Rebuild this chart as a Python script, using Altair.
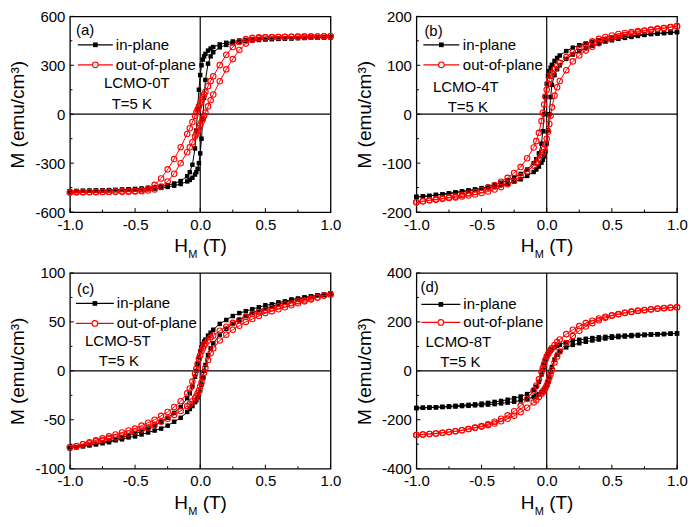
import altair as alt
import pandas as pd

F = "Liberation Sans"

# ---------------- data ----------------
H_DESC = [1.0, 0.95, 0.9, 0.85, 0.8, 0.75, 0.7, 0.65, 0.6, 0.55, 0.5, 0.45, 0.4, 0.35, 0.3, 0.25, 0.2, 0.15, 0.1,
          0.08, 0.06, 0.04, 0.03, 0.02, 0.01, 0.0, -0.01, -0.02, -0.03, -0.04, -0.06, -0.08,
          -0.1, -0.15, -0.2, -0.25, -0.3, -0.35, -0.4, -0.45, -0.5, -0.55, -0.6, -0.65, -0.7, -0.75, -0.8,
          -0.85, -0.9, -0.95, -1.0]
H_ASC = [-1.0, -0.95, -0.9, -0.85, -0.8, -0.75, -0.7, -0.65, -0.6, -0.55, -0.5, -0.45, -0.4, -0.35, -0.3, -0.25,
         -0.2, -0.15, -0.1, -0.08, -0.06, -0.04, -0.03, -0.02, -0.01, 0.0, 0.01, 0.02, 0.03, 0.04, 0.06, 0.08,
         0.1, 0.15, 0.2, 0.25, 0.3, 0.35, 0.4, 0.45, 0.5, 0.55, 0.6, 0.65, 0.7, 0.75, 0.8, 0.85, 0.9, 0.95, 1.0]

A_IN_DESC = [472, 471, 470, 469, 468, 467, 466, 465, 464, 463, 462, 461, 459, 456, 452, 446, 438, 428, 412,
             403, 390, 370, 355, 335, 300, 240, 150, 30, -100, -210, -310, -355,
             -380, -410, -425, -435, -442, -448, -452, -455, -458, -460, -462, -464, -465, -467, -468, -469, -470, -471, -472]
A_IN_ASC = [-472, -471, -470, -469, -468, -467, -466, -465, -464, -463, -462, -461, -459, -456, -452, -446, -438, -428, -412,
            -403, -390, -370, -355, -335, -300, -240, -150, -30, 100, 210, 310, 355,
            380, 410, 425, 435, 442, 448, 452, 455, 458, 460, 462, 464, 465, 467, 468, 469, 470, 471, 472]
A_OUT_DESC = [478, 478, 477, 477, 476, 476, 475, 475, 474, 473, 472, 471, 468, 461, 444, 412, 365, 301, 233,
              203, 172, 137, 121, 104, 86, 67, 48, 29, 10, -10, -48, -86,
              -121, -202, -275, -338, -394, -433, -456, -466, -471, -472, -473, -474, -475, -476, -476, -477, -478, -479, -480]
A_OUT_ASC = [-480, -479, -479, -478, -478, -477, -477, -476, -476, -475, -474, -472, -468, -461, -444, -412, -365, -301, -233,
             -203, -172, -137, -121, -104, -86, -67, -48, -29, -10, 10, 48, 86,
             121, 202, 275, 338, 394, 433, 456, 466, 471, 472, 473, 474, 475, 475, 476, 476, 477, 477, 478]

B_IN_DESC = [168, 167, 166, 165, 164, 163, 162, 160, 159, 157, 155, 153, 151, 148, 145, 141, 136, 129, 120,
             115, 109, 101, 95, 88, 78, 62, 35, 0, -35, -60, -80, -92,
             -100, -113, -122, -129, -135, -140, -144, -148, -151, -154, -156, -158, -160, -162, -164, -165, -167, -168, -169]
B_IN_ASC = [-169, -168, -167, -165, -164, -162, -160, -158, -156, -154, -152, -150, -148, -145, -142, -138, -133, -126, -118,
            -113, -107, -99, -93, -86, -76, -60, -33, 0, 35, 60, 80, 92,
            100, 113, 122, 129, 135, 140, 144, 148, 151, 154, 156, 158, 160, 162, 164, 165, 166, 167, 168]
B_OUT_DESC = [180, 178, 176, 175, 173, 171, 170, 168, 166, 164, 161, 158, 154, 149, 143, 136, 127, 117, 105,
              99, 92, 84, 78, 71, 62, 50, 36, 20, 3, -14, -38, -55,
              -68, -90, -108, -120, -130, -138, -145, -150, -155, -159, -162, -165, -168, -170, -172, -174, -176, -178, -180]
B_OUT_ASC = [-180, -178, -176, -175, -173, -171, -170, -168, -166, -164, -161, -158, -154, -149, -143, -136, -127, -117, -105,
             -99, -92, -84, -78, -71, -62, -50, -36, -20, -3, 14, 38, 55,
             68, 90, 108, 120, 130, 138, 145, 150, 155, 159, 162, 165, 168, 170, 172, 174, 176, 178, 180]

C_IN_DESC = [79, 78, 77, 76, 75, 74, 73, 71, 70, 68, 67, 65, 63, 61, 59, 56, 52, 48, 42,
             39, 36, 32, 30, 27, 24, 20, 14, 7, 0, -6, -16, -23,
             -28, -37, -43, -48, -52, -56, -59, -62, -64, -66, -68, -70, -72, -73, -75, -76, -77, -78, -79]
C_IN_ASC = [-79, -78, -77, -76, -75, -74, -73, -71, -70, -68, -67, -65, -63, -61, -59, -56, -52, -48, -42,
            -39, -36, -32, -30, -27, -24, -20, -14, -7, 0, 6, 16, 23,
            28, 37, 43, 48, 52, 56, 59, 62, 64, 66, 68, 70, 72, 73, 75, 76, 77, 78, 79]
C_OUT_DESC = [78, 77, 75, 74, 72, 71, 69, 68, 66, 64, 62, 60, 58, 55, 52, 49, 45, 41, 36,
              34, 31, 28, 26, 23, 20, 16, 12, 7, 2, -3, -11, -18,
              -23, -31, -37, -42, -46, -50, -53, -56, -59, -61, -63, -65, -67, -69, -71, -73, -75, -77, -78]
C_OUT_ASC = [-78, -77, -75, -74, -72, -71, -69, -68, -66, -64, -62, -60, -58, -55, -52, -49, -45, -41, -36,
             -34, -31, -28, -26, -23, -20, -16, -12, -7, -2, 3, 11, 18,
             23, 31, 37, 42, 46, 50, 53, 56, 59, 61, 63, 65, 67, 69, 71, 73, 75, 77, 78]

D_IN_DESC = [153, 152, 151, 150, 149, 148, 147, 146, 144, 143, 141, 139, 137, 134, 131, 127, 122, 116, 107,
             102, 96, 88, 83, 77, 70, 60, 45, 25, 5, -15, -45, -65,
             -78, -95, -105, -112, -118, -123, -127, -131, -134, -137, -139, -141, -143, -145, -147, -149, -150, -151, -152]
D_IN_ASC = [-152, -151, -150, -149, -148, -147, -146, -144, -143, -141, -140, -138, -136, -133, -130, -126, -121, -115, -106,
            -101, -95, -87, -82, -76, -69, -59, -44, -24, -4, 16, 46, 66,
            79, 96, 106, 113, 119, 124, 128, 132, 135, 138, 140, 142, 144, 146, 148, 149, 150, 152, 153]
D_OUT_DESC = [260, 258, 256, 254, 251, 248, 245, 241, 237, 232, 227, 221, 214, 205, 195, 183, 168, 150, 128,
              118, 106, 93, 86, 78, 69, 58, 44, 28, 12, -5, -35, -60,
              -80, -115, -143, -165, -182, -196, -208, -218, -226, -232, -238, -243, -247, -250, -253, -256, -258, -260, -262]
D_OUT_ASC = [-262, -260, -258, -256, -253, -250, -247, -243, -238, -233, -228, -222, -215, -206, -196, -184, -169, -151, -129,
             -119, -107, -94, -87, -79, -70, -59, -45, -29, -13, 4, 34, 59,
             79, 114, 142, 164, 181, 195, 207, 217, 225, 231, 237, 242, 246, 249, 252, 255, 257, 259, 260]

X_MAJOR = [-1.0, -0.5, 0.0, 0.5, 1.0]
X_MINOR = [-0.75, -0.25, 0.25, 0.75]

PANEL_TAGS = ["(a)", "(b)", "(c)", "(d)"]
SAMPLES = ["LCMO-0T", "LCMO-4T", "LCMO-5T", "LCMO-8T"]
TEMP_LABEL = "T=5 K"
SERIES = ["in-plane", "out-of-plane"]
Y_TITLE = "M (emu/cm³)"
Y_LIMITS = [600, 200, 100, 400]
Y_MAJOR = [[-600, -300, 0, 300, 600], [-200, -100, 0, 100, 200], [-100, -50, 0, 50, 100], [-400, -200, 0, 200, 400]]
Y_MINOR = [[-450, -150, 150, 450], [-150, -50, 50, 150], [-75, -25, 25, 75], [-300, -100, 100, 300]]
IN_DESC = [A_IN_DESC, B_IN_DESC, C_IN_DESC, D_IN_DESC]
IN_ASC = [A_IN_ASC, B_IN_ASC, C_IN_ASC, D_IN_ASC]
OUT_DESC = [A_OUT_DESC, B_OUT_DESC, C_OUT_DESC, D_OUT_DESC]
OUT_ASC = [A_OUT_ASC, B_OUT_ASC, C_OUT_ASC, D_OUT_ASC]

# ---------------- layout (pixels, relative to each plot area) ----------------
SIZES = [(261, 196), (261, 196), (261, 196), (261, 196)]
LAYOUT = [
    dict(tag=(6, 14), l1=28.5, l2=48.5, lx=(8, 43), tx=46, s=(67, 67), t=(62, 88)),
    dict(tag=(8, 14.5), l1=28.5, l2=48.5, lx=(7, 43), tx=46.5, s=(49.5, 71), t=(51.5, 91)),
    dict(tag=(7, 16), l1=30.5, l2=50.5, lx=(6, 44), tx=47, s=(48, 68), t=(49, 88)),
    dict(tag=(4, 14.5), l1=31.5, l2=49.5, lx=(5, 44), tx=47, s=(42, 69), t=(44, 89)),
]
RED = "#ff0000"
MINUS_FIX = "replace(datum.label, '\u2212', '-')"


def one():
    return alt.Data(values=[{"k": 0}])


def text(s, x, y, size=15, align="left", baseline="middle"):
    return alt.Chart(one()).mark_text(
        text=s, font=F, fontSize=size, align=align, baseline=baseline, color="black"
    ).encode(x=alt.value(x), y=alt.value(y))


def panel(k):
    w, h = SIZES[k]
    L = LAYOUT[k]
    ym = Y_LIMITS[k]
    xs = alt.Scale(domain=[-1, 1], nice=False, zero=False)
    ys = alt.Scale(domain=[-ym, ym], nice=False, zero=False)
    ax_x = alt.Axis(values=X_MAJOR, format=".1f", title=None, labelExpr=MINUS_FIX, labelFlush=False)
    ax_y = alt.Axis(values=Y_MAJOR[k], format="d", title=Y_TITLE, labelExpr=MINUS_FIX, labelFlush=False)

    def X(f):
        return alt.X(f, scale=xs, axis=ax_x, title=None)

    def Y(f):
        return alt.Y(f, scale=ys, axis=ax_y, title=Y_TITLE)

    def loop(desc, asc):
        return pd.DataFrame({"H": H_DESC + H_ASC, "M": desc + asc,
                             "i": list(range(len(H_DESC) + len(H_ASC)))})

    df_in = loop(IN_DESC[k], IN_ASC[k])
    df_out = loop(OUT_DESC[k], OUT_ASC[k])

    vline = alt.Chart(alt.Data(values=[{"H": 0}])).mark_rule(color="black", strokeWidth=1.2).encode(
        x=X("H:Q"))
    hline = alt.Chart(alt.Data(values=[{"M": 0}])).mark_rule(color="black", strokeWidth=1.2).encode(
        y=Y("M:Q"))

    in_line = alt.Chart(df_in).mark_line(color="black", strokeWidth=1).encode(
        x=X("H:Q"), y=Y("M:Q"), order="i:Q")
    in_pts = alt.Chart(df_in).mark_point(shape="square", filled=True, color="black", size=20, opacity=1).encode(
        x=X("H:Q"), y=Y("M:Q"))
    out_line = alt.Chart(df_out).mark_line(color=RED, strokeWidth=1).encode(
        x=X("H:Q"), y=Y("M:Q"), order="i:Q")
    out_pts = alt.Chart(df_out).mark_point(shape="circle", filled=False, color=RED, size=30,
                                           strokeWidth=1.1, opacity=1).encode(x=X("H:Q"), y=Y("M:Q"))

    xt_major = alt.Chart(alt.Data(values=[{"H": v} for v in X_MAJOR])).mark_rule(
        color="black", strokeWidth=1).encode(x=X("H:Q"), y=alt.value(h), y2=alt.value(h - 4))
    xt_minor = alt.Chart(alt.Data(values=[{"H": v} for v in X_MINOR])).mark_rule(
        color="black", strokeWidth=1).encode(x=X("H:Q"), y=alt.value(h), y2=alt.value(h - 2.5))
    yt_major = alt.Chart(alt.Data(values=[{"M": v} for v in Y_MAJOR[k]])).mark_rule(
        color="black", strokeWidth=1).encode(y=Y("M:Q"), x=alt.value(0), x2=alt.value(4))
    yt_minor = alt.Chart(alt.Data(values=[{"M": v} for v in Y_MINOR[k]])).mark_rule(
        color="black", strokeWidth=1).encode(y=Y("M:Q"), x=alt.value(0), x2=alt.value(2.5))

    lx0, lx1 = L["lx"]
    cx = (lx0 + lx1) / 2
    leg_in_line = alt.Chart(one()).mark_rule(color="black", strokeWidth=1.2).encode(
        x=alt.value(lx0), x2=alt.value(lx1), y=alt.value(L["l1"]))
    leg_in_pt = alt.Chart(one()).mark_point(shape="square", filled=True, color="black", size=22, opacity=1).encode(
        x=alt.value(cx), y=alt.value(L["l1"]))
    leg_out_line = alt.Chart(one()).mark_rule(color=RED, strokeWidth=1.2).encode(
        x=alt.value(lx0), x2=alt.value(lx1), y=alt.value(L["l2"]))
    leg_out_pt = alt.Chart(one()).mark_point(shape="circle", filled=True, fill="white", stroke=RED,
                                             strokeWidth=1.1, size=32, opacity=1).encode(
        x=alt.value(cx), y=alt.value(L["l2"]))

    texts = [
        text(PANEL_TAGS[k], L["tag"][0], L["tag"][1]),
        text(SERIES[0], L["tx"], L["l1"]),
        text(SERIES[1], L["tx"], L["l2"]),
        text(SAMPLES[k], L["s"][0], L["s"][1], align="center"),
        text(TEMP_LABEL, L["t"][0], L["t"][1], align="center"),
        # x title H_M (T)
        text("H", w / 2 - 26, h + 40, size=19, baseline="alphabetic"),
        text("M", w / 2 - 12, h + 46, size=11, baseline="alphabetic"),
        text("(T)", w / 2 + 2.5, h + 40, size=19, baseline="alphabetic"),
    ]

    return alt.layer(
        in_line, vline, hline, in_pts, out_line, out_pts,
        xt_major, xt_minor, yt_major, yt_minor,
        leg_in_line, leg_in_pt, leg_out_line, leg_out_pt, *texts
    ).properties(width=w, height=h)


row1 = alt.hconcat(panel(0), panel(1), spacing=12)
row2 = alt.hconcat(panel(2), panel(3), spacing=12)
chart = alt.vconcat(row1, row2, spacing=4).properties(padding=0).configure_view(
    stroke="black", strokeWidth=1.3
).configure_axis(
    domain=False, ticks=False, grid=False,
    labelFont=F, labelFontSize=15, labelColor="black", labelPadding=5,
    titleFont=F, titleFontSize=19, titleFontWeight="normal", titleColor="black", titlePadding=7,
)

chart.save("out.html", embed_options={"renderer": "svg", "actions": False})
